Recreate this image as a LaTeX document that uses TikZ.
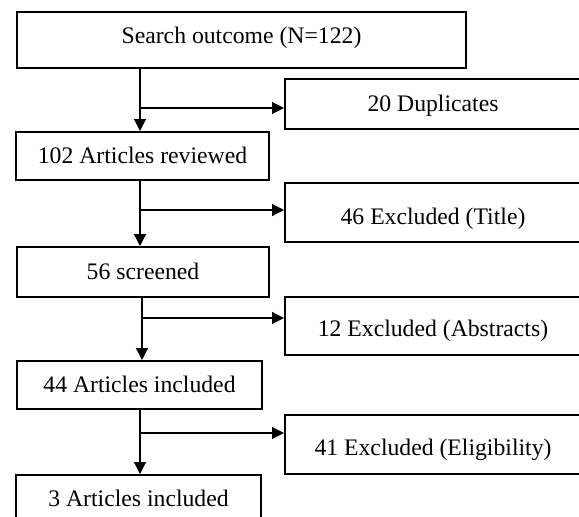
\documentclass[tikz,border=0pt]{standalone}
\usepackage{fontspec}
\setmainfont{Liberation Serif}
\usetikzlibrary{arrows.meta}

\begin{document}
\begin{tikzpicture}[x=1pt, y=-1pt,
  box/.style={draw, line width=2pt, rectangle, inner sep=0pt,
    font=\fontsize{23.7}{28}\selectfont, text height=15.7pt, text depth=0pt},
  arr/.style={line width=1.2pt, -{Triangle[length=12pt, width=12pt]}}]
  \useasboundingbox (0,0) rectangle (579,517);
  \clip (0,0) rectangle (579,517);
  % main column boxes
  \node[box, minimum width=449pt, minimum height=56pt, text height=6pt] (search) at (241.5,40) {Search outcome (N=122)};
  \node[box, minimum width=253pt, minimum height=48pt] (reviewed) at (142.5,156) {102 Articles reviewed};
  \node[box, minimum width=252pt, minimum height=50pt] (screened) at (143,272) {56 screened};
  \node[box, minimum width=245pt, minimum height=48pt] (incl44) at (139.5,385) {44 Articles included};
  \node[box, minimum width=245pt, minimum height=48pt] (incl3) at (138.5,499) {3 Articles included};
  % excluded boxes on the right
  \node[box, minimum width=296pt, minimum height=50pt] (dupl) at (433,104) {20 Duplicates};
  \node[box, minimum width=296pt, minimum height=59pt, text height=23.7pt] (extitle) at (433,212.5) {46 Excluded (Title)};
  \node[box, minimum width=296pt, minimum height=58pt, text height=21.7pt] (exabstr) at (433,326) {12 Excluded (Abstracts)};
  \node[box, minimum width=296pt, minimum height=59pt, text height=21.7pt] (exelig) at (433,444.5) {41 Excluded (Eligibility)};
  % branch points on the spine
  \coordinate (br1) at (140,108);
  \coordinate (br2) at (140,210);
  \coordinate (br3) at (142,318);
  \coordinate (br4) at (140,433);
  % draw down arrows
  \draw[arr] (search.south -| br1) -- (reviewed.north -| br1);
  \draw[arr] (reviewed.south -| br2) -- (screened.north -| br2);
  \draw[arr] (screened.south -| br3) -- (incl44.north -| br3);
  \draw[arr] (incl44.south -| br4) -- (incl3.north -| br4);
  % draw side arrows
  \draw[arr] (br1) -- (br1 -| dupl.west);
  \draw[arr] (br2) -- (br2 -| extitle.west);
  \draw[arr] (br3) -- (br3 -| exabstr.west);
  \draw[arr] (br4) -- (br4 -| exelig.west);
\end{tikzpicture}
\end{document}
